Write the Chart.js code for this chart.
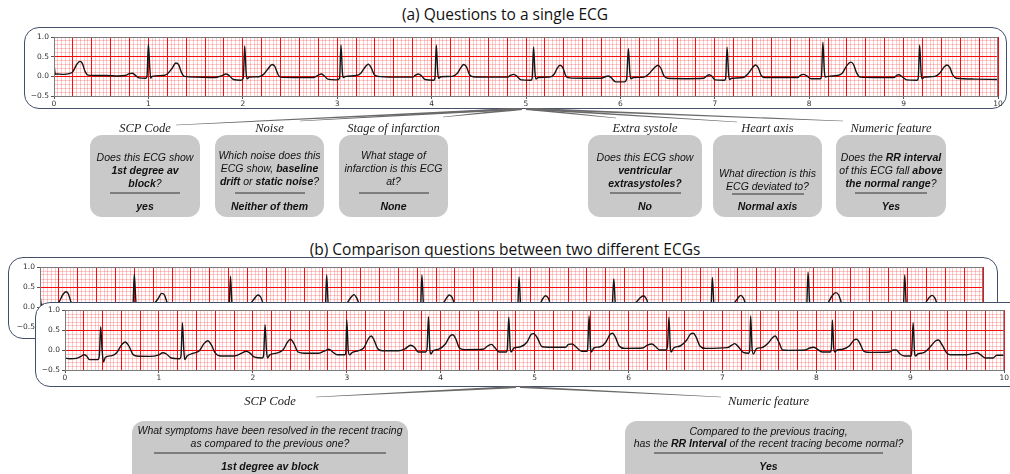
<!DOCTYPE html>
<html>
<head>
<meta charset="utf-8">
<script src="https://cdn.jsdelivr.net/npm/chart.js@4.4.1/dist/chart.umd.min.js"></script>
<style>
  html, body { margin: 0; padding: 0; background: #fff; }
  body { position: relative; width: 1010px; height: 474px; overflow: hidden; }
  .title { position: absolute; left: 0; width: 1010px; text-align: center; font: 15.5px "Open Sans", sans-serif; color: #111; line-height: 18px; }
  .frame { position: absolute; box-sizing: border-box; border: 1.5px solid #44506a; border-radius: 15px; background: #fff; }
  canvas { position: absolute; }
  .label { position: absolute; font: italic 12.5px "Liberation Serif", serif; color: #222; white-space: nowrap; transform: translate(-50%, -50%); }
  .qbox { position: absolute; background: #c9c9c9; border-radius: 12px; }
  .qline { position: absolute; left: 0; width: 100%; text-align: center; font: italic 10.5px "Liberation Sans", Arial, sans-serif; color: #111; line-height: 12px; white-space: nowrap; }
  .qline b { font-weight: bold; }
  .sep { position: absolute; height: 2px; background: #7d7d7d; }
  svg { position: absolute; left: 0; top: 0; }
</style>
</head>
<body>
<div class="title" style="top:5px">(a) Questions to a single ECG</div>
<div class="frame" style="left:24px;top:27px;width:983px;height:82px"></div>
<canvas id="ecgA" width="980" height="81" style="left:24px;top:29px"></canvas>

<div class="title" style="top:240px">(b) Comparison questions between two different ECGs</div>
<div class="frame" style="left:8px;top:257px;width:990px;height:82px"></div>
<canvas id="ecgB" width="985" height="82" style="left:8px;top:259px"></canvas>
<div class="frame" style="left:35px;top:302px;width:1000px;height:85px"></div>
<canvas id="ecgC" width="975" height="81" style="left:35px;top:303px"></canvas>

<svg id="links" width="1010" height="474"></svg>
<div id="questions"></div>

<script>
// ECG (a) – also the previous tracing in (b); seconds / mV
const ecgATime = [
  0.00, 0.015, 0.03, 0.10, 0.16, 0.20, 0.24, 0.275, 0.30, 0.33, 0.36, 0.42, 0.55, 0.68, 0.75, 0.80, 0.83, 0.86, 0.90, 0.97,
  0.985, 1.00, 1.015, 1.025, 1.04, 1.15, 1.20, 1.25, 1.29, 1.32, 1.35, 1.38, 1.50, 1.70, 1.78, 1.82, 1.85, 1.90, 1.98,
  2.005, 2.02, 2.035, 2.045, 2.07, 2.17, 2.22, 2.27, 2.31, 2.34, 2.37, 2.40, 2.55, 2.75, 2.80, 2.83, 2.86, 2.90, 2.99,
  3.025, 3.04, 3.055, 3.065, 3.09, 3.20, 3.25, 3.30, 3.33, 3.36, 3.39, 3.43, 3.60, 3.80, 3.83, 3.86, 3.89, 3.93, 4.02,
  4.035, 4.05, 4.065, 4.075, 4.10, 4.22, 4.27, 4.31, 4.34, 4.37, 4.40, 4.44, 4.60, 4.80, 4.84, 4.87, 4.90, 4.95, 5.05,
  5.065, 5.08, 5.095, 5.105, 5.13, 5.25, 5.30, 5.33, 5.36, 5.39, 5.42, 5.46, 5.60, 5.80, 5.84, 5.87, 5.90, 5.95, 6.04,
  6.065, 6.085, 6.10, 6.11, 6.14, 6.25, 6.30, 6.36, 6.40, 6.43, 6.46, 6.50, 6.70, 6.88, 6.92, 6.94, 6.97, 7.00, 7.10,
  7.115, 7.13, 7.145, 7.155, 7.18, 7.30, 7.35, 7.40, 7.43, 7.46, 7.49, 7.53, 7.70, 7.88, 7.91, 7.94, 7.97, 8.02, 8.12,
  8.13, 8.145, 8.16, 8.17, 8.20, 8.30, 8.35, 8.40, 8.44, 8.47, 8.50, 8.54, 8.70, 8.90, 8.93, 8.95, 8.98, 9.03, 9.14,
  9.155, 9.17, 9.185, 9.195, 9.22, 9.33, 9.38, 9.43, 9.46, 9.49, 9.52, 9.56, 9.75, 10.00
];
const ecgAValue = [
  0.30, 0.05, 0.06, 0.05, 0.07, 0.12, 0.30, 0.38, 0.33, 0.12, 0.03, 0.02, 0.02, 0.01, 0.02, 0.07, 0.08, 0.03, -0.04, -0.05,
  0.00, 0.82, 0.20, -0.05, 0.00, 0.02, 0.06, 0.20, 0.34, 0.30, 0.10, 0.00, -0.02, -0.03, 0.02, 0.06, 0.03, -0.08, -0.10,
  -0.05, 0.77, 0.10, -0.06, -0.02, -0.01, 0.05, 0.20, 0.30, 0.25, 0.06, -0.02, -0.03, -0.03, 0.03, 0.06, 0.02, -0.07, -0.09,
  -0.05, 0.80, 0.10, -0.03, 0.00, 0.02, 0.08, 0.25, 0.31, 0.22, 0.05, 0.00, -0.02, -0.02, 0.03, 0.06, 0.02, -0.08, -0.10,
  -0.05, 0.80, 0.10, -0.05, -0.01, 0.00, 0.07, 0.22, 0.30, 0.24, 0.05, -0.01, -0.02, -0.02, 0.03, 0.05, 0.01, -0.09, -0.10,
  -0.05, 0.75, 0.10, -0.07, -0.03, -0.02, 0.06, 0.20, 0.28, 0.22, 0.02, -0.04, -0.05, -0.05, -0.01, 0.01, -0.03, -0.14, -0.14,
  -0.08, 0.70, 0.10, -0.06, -0.03, -0.02, 0.06, 0.22, 0.28, 0.20, 0.02, -0.05, -0.06, -0.05, 0.02, 0.04, 0.00, -0.09, -0.10,
  -0.05, 0.74, 0.10, -0.08, -0.05, -0.03, 0.06, 0.22, 0.29, 0.22, 0.03, -0.03, -0.03, -0.03, 0.03, 0.05, 0.02, -0.06, -0.06,
  0.00, 0.87, 0.15, -0.02, 0.00, 0.02, 0.08, 0.28, 0.36, 0.30, 0.10, -0.02, -0.03, -0.03, 0.03, 0.04, 0.00, -0.09, -0.10,
  -0.05, 0.80, 0.10, -0.06, -0.02, 0.00, 0.07, 0.24, 0.29, 0.22, 0.04, -0.05, -0.07, -0.08
];

// ECG (b), recent tracing
const ecgCTime = [
  0.00, 0.05, 0.12, 0.17, 0.20, 0.23, 0.26, 0.35, 0.365, 0.38, 0.395, 0.41, 0.43, 0.50, 0.55, 0.60, 0.64, 0.68, 0.72, 0.76, 0.90,
  1.00, 1.04, 1.08, 1.13, 1.22, 1.235, 1.25, 1.265, 1.275, 1.30, 1.37, 1.43, 1.48, 1.52, 1.56, 1.60, 1.66, 1.80, 1.88, 1.93, 1.97,
  2.02, 2.10, 2.115, 2.13, 2.145, 2.155, 2.18, 2.25, 2.32, 2.37, 2.40, 2.44, 2.48, 2.55, 2.70, 2.76, 2.81, 2.85, 2.90, 2.98, 2.99,
  3.00, 3.015, 3.03, 3.06, 3.12, 3.18, 3.23, 3.26, 3.29, 3.33, 3.38, 3.55, 3.62, 3.68, 3.72, 3.76, 3.84, 3.855, 3.87, 3.885, 3.895,
  3.92, 3.98, 4.05, 4.10, 4.13, 4.16, 4.20, 4.25, 4.45, 4.50, 4.54, 4.58, 4.62, 4.70, 4.71, 4.725, 4.74, 4.75, 4.78, 4.85, 4.92,
  4.96, 4.99, 5.03, 5.08, 5.15, 5.33, 5.36, 5.40, 5.44, 5.50, 5.56, 5.565, 5.58, 5.595, 5.605, 5.63, 5.70, 5.76, 5.80, 5.83, 5.86,
  5.90, 5.96, 6.15, 6.20, 6.25, 6.29, 6.33, 6.40, 6.415, 6.43, 6.445, 6.455, 6.48, 6.55, 6.62, 6.66, 6.69, 6.72, 6.76, 6.82, 7.05,
  7.10, 7.13, 7.17, 7.22, 7.28, 7.29, 7.30, 7.315, 7.33, 7.36, 7.42, 7.49, 7.53, 7.56, 7.60, 7.64, 7.70, 7.88, 7.93, 7.97, 8.01,
  8.06, 8.15, 8.16, 8.17, 8.185, 8.195, 8.22, 8.28, 8.35, 8.40, 8.43, 8.46, 8.51, 8.58, 8.78, 8.82, 8.85, 8.89, 8.94, 9.01, 9.015,
  9.03, 9.045, 9.055, 9.08, 9.15, 9.22, 9.27, 9.30, 9.34, 9.39, 9.43, 9.60, 9.66, 9.71, 9.75, 9.80, 9.88, 9.92, 10.00
];
const ecgCValue = [
  -0.20, -0.22, -0.21, -0.16, -0.12, -0.15, -0.24, -0.24, -0.15, 0.58, 0.00, -0.30, -0.18, -0.14, -0.07, 0.12, 0.20, 0.10, -0.10, -0.15, -0.16,
  -0.12, -0.07, -0.10, -0.20, -0.22, -0.15, 0.68, 0.00, -0.24, -0.15, -0.08, -0.02, 0.16, 0.23, 0.12, -0.08, -0.15, -0.15, -0.08, -0.03, -0.08,
  -0.18, -0.20, -0.12, 0.63, 0.00, -0.20, -0.12, -0.08, 0.00, 0.20, 0.27, 0.15, -0.05, -0.08, -0.08, -0.03, 0.02, -0.05, -0.12, -0.12, -0.05,
  0.75, 0.00, -0.12, -0.06, -0.02, 0.05, 0.28, 0.35, 0.25, 0.03, -0.02, -0.02, 0.03, 0.12, 0.07, -0.05, -0.05, 0.05, 0.83, 0.00, -0.10,
  -0.02, 0.02, 0.15, 0.35, 0.38, 0.28, 0.05, 0.01, 0.02, 0.10, 0.14, 0.05, -0.05, -0.05, 0.05, 0.82, 0.05, -0.05, 0.05, 0.08, 0.20,
  0.38, 0.41, 0.30, 0.08, 0.07, 0.07, 0.14, 0.15, 0.08, -0.03, -0.03, 0.05, 0.85, 0.05, -0.05, 0.05, 0.08, 0.20, 0.38, 0.42, 0.32,
  0.10, 0.04, 0.05, 0.12, 0.15, 0.08, 0.00, 0.00, 0.10, 0.82, 0.05, -0.05, 0.05, 0.10, 0.25, 0.40, 0.42, 0.32, 0.10, 0.04, 0.06,
  0.12, 0.16, 0.08, -0.06, -0.08, 0.00, 0.85, 0.05, -0.10, 0.03, 0.06, 0.18, 0.30, 0.35, 0.20, 0.00, -0.01, 0.00, 0.05, 0.07, 0.02,
  -0.05, -0.05, 0.05, 0.75, 0.05, -0.05, 0.00, 0.02, 0.10, 0.25, 0.27, 0.18, -0.04, -0.06, -0.05, 0.00, 0.00, -0.10, -0.15, -0.15, -0.05,
  0.68, -0.05, -0.15, -0.10, -0.06, 0.10, 0.23, 0.25, 0.12, -0.08, -0.12, -0.12, -0.09, -0.07, -0.12, -0.20, -0.20, -0.13, -0.13
];

const timeRange = [0, 10];
const voltRange = [-0.5, 1.0];
const xLabelStep = 1, xMajorStep = 0.2, xMinorStep = 0.04;
const yLabelStep = 0.5, yMinorStep = 0.1;

const plotFrame = {
  id: "plotFrame",
  afterDatasetsDraw(chart) {
    const { ctx, chartArea: a } = chart;
    ctx.save();
    ctx.strokeStyle = "#7b7b7b";
    ctx.lineWidth = 1;
    ctx.strokeRect(a.left + 0.5, a.top + 0.5, a.right - a.left - 1, a.bottom - a.top);
    ctx.restore();
  }
};

function gridScale(axis, step, color, width, z) {
  return {
    type: "linear",
    axis: axis,
    position: axis === "x" ? "bottom" : "left",
    min: axis === "x" ? timeRange[0] : voltRange[0],
    max: axis === "x" ? timeRange[1] : voltRange[1],
    ticks: { display: false, stepSize: step },
    grid: { color: color, lineWidth: width, drawTicks: false, z: z },
    border: { display: false },
    afterFit: (s) => { if (axis === "x") s.height = 0; else s.width = 0; }
  };
}

function makeEcg(id, times, values, yW, xH, padTop, padRight) {
  const points = times.map((t, i) => ({ x: t, y: values[i] }));
  const tickFont = { family: "DejaVu Sans", size: 7.5 };
  return new Chart(document.getElementById(id), {
    type: "line",
    data: {
      datasets: [{
        data: points,
        borderColor: "#151515",
        borderWidth: 1.4,
        pointRadius: 0,
        cubicInterpolationMode: "monotone",
        fill: false
      }]
    },
    options: {
      responsive: false,
      animation: false,
      events: [],
      parsing: false,
      layout: { padding: { top: padTop, right: padRight, left: 0, bottom: 0 } },
      plugins: { legend: { display: false }, tooltip: { enabled: false } },
      scales: {
        xMinor: gridScale("x", xMinorStep, "rgba(255,50,50,0.38)", 0.7, -3),
        yMinor: gridScale("y", yMinorStep, "rgba(255,50,50,0.38)", 0.7, -3),
        xMajor: gridScale("x", xMajorStep, "#ff0a0a", 1, -2),
        yMajor: gridScale("y", yLabelStep, "#ff0a0a", 1, -2),
        x: {
          type: "linear", position: "bottom", min: timeRange[0], max: timeRange[1],
          ticks: { stepSize: xLabelStep, font: tickFont, color: "#333", padding: 1, maxRotation: 0, autoSkip: false },
          grid: { drawOnChartArea: false, drawTicks: true, tickLength: 3, color: "#555" },
          border: { display: false },
          afterFit: (s) => { s.height = xH; }
        },
        y: {
          type: "linear", position: "left", min: voltRange[0], max: voltRange[1],
          ticks: {
            stepSize: yLabelStep, font: tickFont, color: "#333", padding: 2, autoSkip: false,
            callback: (v) => (v < 0 ? "\u2212" : "") + Math.abs(v).toFixed(1)
          },
          grid: { drawOnChartArea: false, drawTicks: true, tickLength: 3, color: "#555" },
          border: { display: false },
          afterFit: (s) => { s.width = yW; }
        }
      }
    },
    plugins: [plotFrame]
  });
}

makeEcg("ecgA", ecgATime, ecgAValue, 30, 14, 8, 6);
makeEcg("ecgB", ecgATime, ecgAValue, 32, 14, 8, 10);
makeEcg("ecgC", ecgCTime, ecgCValue, 30, 14, 7, 2);

// question cards
const cards = [
  { left: 90, top: 135, w: 110, h: 82, title: "SCP Code", titleY: 128,
    lines: ["Does this ECG show", "<b>1st degree av</b>", "<b>block</b>?"], ys: [157, 170, 183], sepY: 193, sepW: 70, ans: "yes", ansY: 206 },
  { left: 215, top: 135, w: 109, h: 82, title: "Noise", titleY: 128,
    lines: ["Which noise does this", "ECG show, <b>baseline</b>", "<b>drift</b> or <b>static noise</b>?"], ys: [155, 168, 181], sepY: 193, sepW: 70, ans: "Neither of them", ansY: 206 },
  { left: 339, top: 135, w: 109, h: 82, title: "Stage of infarction", titleY: 128,
    lines: ["What stage of", "infarction is this ECG", "at?"], ys: [155, 168, 181], sepY: 193, sepW: 70, ans: "None", ansY: 206 },
  { left: 588, top: 135, w: 114, h: 82, title: "Extra systole", titleY: 128,
    lines: ["Does this ECG show", "<b>ventricular</b>", "<b>extrasystoles?</b>"], ys: [157, 170, 183], sepY: 193, sepW: 71, ans: "No", ansY: 206 },
  { left: 713, top: 135, w: 109, h: 82, title: "Heart axis", titleY: 128,
    lines: ["What direction is this", "ECG deviated to?"], ys: [173, 186], sepY: 194, sepW: 72, ans: "Normal axis", ansY: 206 },
  { left: 836, top: 135, w: 110, h: 82, title: "Numeric feature", titleY: 128,
    lines: ["Does the <b>RR interval</b>", "of this ECG fall <b>above</b>", "<b>the normal range</b>?"], ys: [157, 170, 183], sepY: 193, sepW: 72, ans: "Yes", ansY: 206 },
  { left: 132, top: 421, w: 276, h: 70, title: "SCP Code", titleY: 401,
    lines: ["What symptoms have been resolved in the recent tracing", "as compared to the previous one?"], ys: [430, 443], sepY: 453, sepW: 232, ans: "1st degree av block", ansY: 466 },
  { left: 625, top: 421, w: 287, h: 70, title: "Numeric feature", titleY: 401,
    lines: ["Compared to the previous tracing,", "has the <b>RR Interval</b> of the recent tracing become normal?"], ys: [431, 443], sepY: 453, sepW: 229, ans: "Yes", ansY: 466 }
];

const holder = document.getElementById("questions");
cards.forEach((c) => {
  const lab = document.createElement("div");
  lab.className = "label";
  lab.style.left = (c.left + c.w / 2) + "px";
  lab.style.top = c.titleY + "px";
  lab.textContent = c.title;
  holder.appendChild(lab);

  const box = document.createElement("div");
  box.className = "qbox";
  Object.assign(box.style, { left: c.left + "px", top: c.top + "px", width: c.w + "px", height: c.h + "px" });
  c.lines.forEach((html, i) => {
    const ln = document.createElement("div");
    ln.className = "qline";
    ln.style.top = (c.ys[i] - c.top - 6) + "px";
    ln.innerHTML = html;
    box.appendChild(ln);
  });
  const sep = document.createElement("div");
  sep.className = "sep";
  Object.assign(sep.style, { left: (c.w - c.sepW) / 2 + "px", width: c.sepW + "px", top: (c.sepY - c.top - 1) + "px" });
  box.appendChild(sep);
  const ans = document.createElement("div");
  ans.className = "qline";
  ans.style.top = (c.ansY - c.top - 6) + "px";
  ans.innerHTML = "<b>" + c.ans + "</b>";
  box.appendChild(ans);
  holder.appendChild(box);
});

// connector wedges from the ECG frames to the question labels
const links = [
  [515, 109, 176, 125], [518, 109, 300, 121], [522, 109, 443, 117],
  [526, 109, 616, 118], [530, 109, 737, 122], [534, 109, 843, 121],
  [516, 387, 316, 397], [520, 387, 721, 397]
];
const svg = document.getElementById("links");
links.forEach(([x1, y1, x2, y2]) => {
  const dx = x2 - x1, dy = y2 - y1, len = Math.hypot(dx, dy);
  const nx = -dy / len, ny = dx / len;
  const w1 = 1.1, w2 = 0.35;
  const pts = [
    [x1 + nx * w1, y1 + ny * w1], [x2 + nx * w2, y2 + ny * w2],
    [x2 - nx * w2, y2 - ny * w2], [x1 - nx * w1, y1 - ny * w1]
  ].map((p) => p.join(",")).join(" ");
  const poly = document.createElementNS("http://www.w3.org/2000/svg", "polygon");
  poly.setAttribute("points", pts);
  poly.setAttribute("fill", "#6a6a6a");
  svg.appendChild(poly);
});
</script>
</body>
</html>
